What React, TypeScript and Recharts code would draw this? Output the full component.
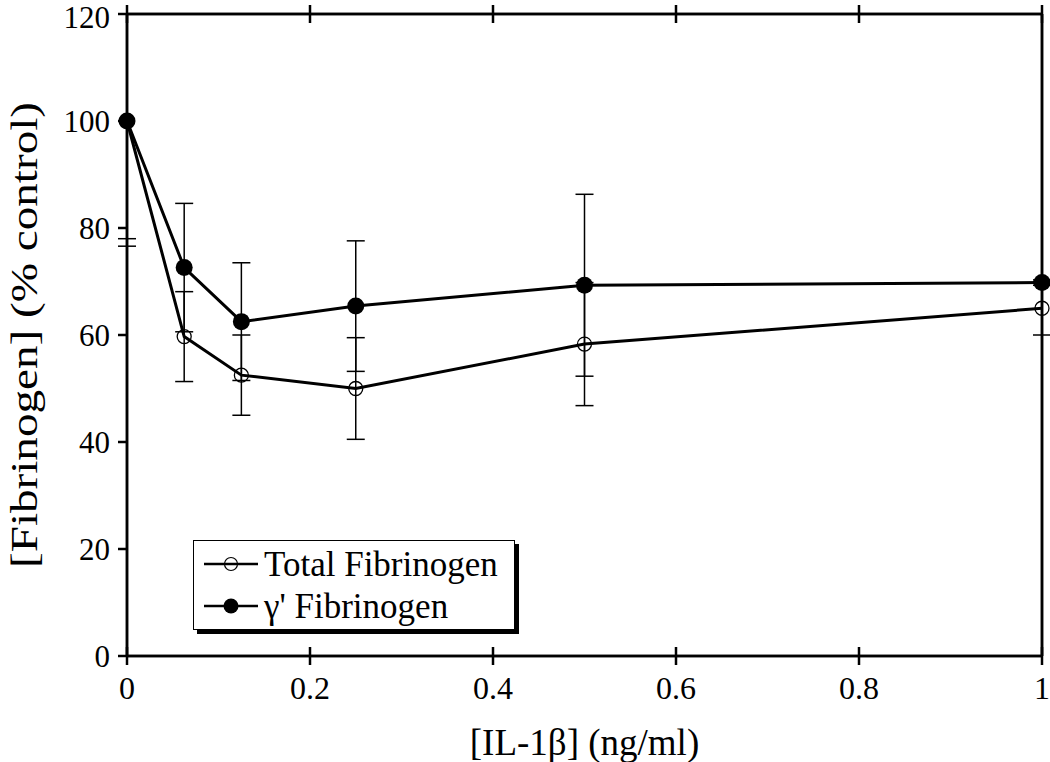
import { LineChart, Line, XAxis, YAxis, ErrorBar, Legend } from 'recharts';

const doses = [0, 0.0625, 0.125, 0.25, 0.5, 1];
const totalFib = [100, 59.7, 52.5, 50.0, 58.3, 65.0];
const totalErr = [[22, 20], 8.4, 7.5, 9.5, 11.5, 5];
const gammaFib = [100, 72.6, 62.5, 65.4, 69.3, 69.8];
const gammaErr = [[23.4, 20], 12, 11, 12.2, 17, 0.5];
const xTicks = [0, 0.2, 0.4, 0.6, 0.8, 1];
const yTicks = [0, 20, 40, 60, 80, 100, 120];

const rows = doses.map((d, i) => ({
  dose: d,
  total: totalFib[i],
  totalErr: totalErr[i],
  gamma: gammaFib[i],
  gammaErr: gammaErr[i],
}));

const SERIF = '"Liberation Serif", "Times New Roman", Times, serif';
const blank = () => '';
const axisStyle = { stroke: '#000', strokeWidth: 2.5, tickSize: 9 };

function XTick({ x, y, payload }: any) {
  return (
    <text x={x} y={y} dy={30} textAnchor="middle" fill="#000" fontFamily={SERIF} fontSize={32}>
      {payload.value}
    </text>
  );
}

function YTick({ x, y, payload }: any) {
  // keep the top label inside the picture
  const base = Math.max(y + 11, 28);
  return (
    <text x={x} y={base} textAnchor="end" fill="#000" fontFamily={SERIF} fontSize={31}>
      {payload.value}
    </text>
  );
}

function XTitle({ viewBox }: any) {
  const cx = viewBox.x + viewBox.width / 2;
  return (
    <text x={cx} y={viewBox.y + 99} textAnchor="middle" fill="#000" fontFamily={SERIF} fontSize={37}>
      [IL-1β] (ng/ml)
    </text>
  );
}

function YTitle({ viewBox }: any) {
  const cy = viewBox.y + viewBox.height / 2;
  const cx = 37;
  return (
    <text
      x={cx}
      y={cy}
      transform={`rotate(-90 ${cx} ${cy})`}
      textAnchor="middle"
      fill="#000"
      fontFamily={SERIF}
      fontSize={38}
      textLength={466}
      lengthAdjust="spacingAndGlyphs"
    >
      [Fibrinogen] (% control)
    </text>
  );
}

function LegendBox({ payload }: any) {
  return (
    <div
      style={{
        width: 322,
        height: 90,
        border: '1.5px solid #000',
        background: '#fff',
        boxShadow: '4px 4px 0 #000',
        fontFamily: SERIF,
        fontSize: 35,
        color: '#000',
        boxSizing: 'border-box',
        paddingTop: 2,
      }}
    >
      {(payload || []).map((p: any) => (
        <div key={p.value} style={{ display: 'flex', alignItems: 'center', height: 42 }}>
          <svg width={64} height={20} style={{ marginLeft: 6 }}>
            <line x1={4} y1={10} x2={58} y2={10} stroke="#000" strokeWidth={2.5} />
            {p.dataKey === 'gamma' ? (
              <circle cx={31} cy={10} r={7.5} fill="#000" />
            ) : (
              <circle cx={31} cy={10} r={6.5} fill="none" stroke="#000" strokeWidth={1.2} />
            )}
          </svg>
          <span style={{ lineHeight: 1 }}>{p.value}</span>
        </div>
      ))}
    </div>
  );
}

export default function App() {
  return (
    <div style={{ position: 'absolute', left: 0, top: 0, background: '#fff' }}>
      <LineChart
        width={1050}
        height={762}
        data={rows}
        margin={{ top: 13, right: 7, bottom: 105, left: 126 }}
      >
        <XAxis
          xAxisId={0}
          dataKey="dose"
          type="number"
          domain={[0, 1]}
          ticks={xTicks}
          height={1}
          tickMargin={4}
          {...axisStyle}
          tick={<XTick />}
          label={{ content: <XTitle /> }}
        />
        <XAxis xAxisId="bin" type="number" dataKey="dose" domain={[0, 1]} ticks={xTicks} height={1} mirror {...axisStyle} tickFormatter={blank} />
        <XAxis xAxisId="top" orientation="top" type="number" dataKey="dose" domain={[0, 1]} ticks={xTicks} height={1} {...axisStyle} tickFormatter={blank} />
        <XAxis xAxisId="tin" orientation="top" type="number" dataKey="dose" domain={[0, 1]} ticks={xTicks} height={1} mirror {...axisStyle} tickFormatter={blank} />
        <YAxis
          yAxisId={0}
          type="number"
          domain={[0, 120]}
          ticks={yTicks}
          width={1}
          tickMargin={8}
          {...axisStyle}
          tick={<YTick />}
          label={{ content: <YTitle /> }}
        />
        <YAxis yAxisId="lin" type="number" domain={[0, 120]} ticks={yTicks} width={1} mirror {...axisStyle} tickFormatter={blank} />
        <YAxis yAxisId="right" orientation="right" type="number" domain={[0, 120]} ticks={yTicks} width={1} {...axisStyle} tickFormatter={blank} />
        <YAxis yAxisId="rin" orientation="right" type="number" domain={[0, 120]} ticks={yTicks} width={1} mirror {...axisStyle} tickFormatter={blank} />
        <Legend
          layout="vertical"
          align="center"
          verticalAlign="middle"
          wrapperStyle={{ left: 193, top: 540, width: 330, height: 96 }}
          content={<LegendBox />}
        />
        <Line
          dataKey="total"
          name="Total Fibrinogen"
          stroke="#000"
          strokeWidth={3}
          isAnimationActive={false}
          dot={{ r: 7, fill: 'none', stroke: '#000', strokeWidth: 1.3 }}
          activeDot={false}
        >
          <ErrorBar dataKey="totalErr" direction="y" width={9} stroke="#000" strokeWidth={1.5} isAnimationActive={false} />
        </Line>
        <Line
          dataKey="gamma"
          name="γ' Fibrinogen"
          stroke="#000"
          strokeWidth={3}
          isAnimationActive={false}
          dot={{ r: 8.5, fill: '#000', stroke: '#000', strokeWidth: 0 }}
          activeDot={false}
        >
          <ErrorBar dataKey="gammaErr" direction="y" width={9} stroke="#000" strokeWidth={1.5} isAnimationActive={false} />
        </Line>
      </LineChart>
    </div>
  );
}
